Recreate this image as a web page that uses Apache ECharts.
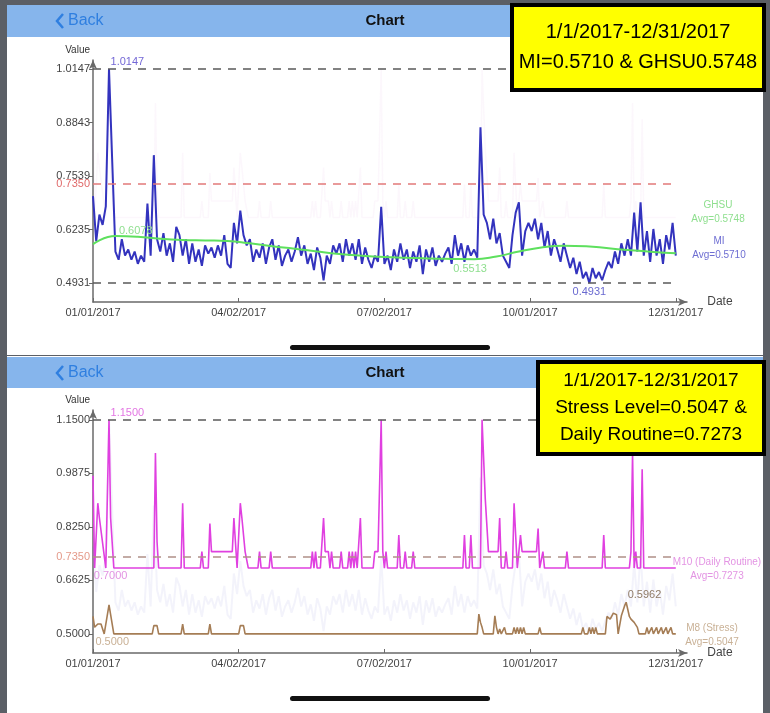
<!DOCTYPE html>
<html><head><meta charset="utf-8">
<script src="https://cdn.jsdelivr.net/npm/echarts@6/dist/echarts.min.js"></script>
<style>html,body{margin:0;padding:0;background:#5b5f66}#c{width:770px;height:713px}</style>
</head><body><div id="c"></div>
<script>
// ---------- data ----------
const xTickDays = [0, 91, 182, 273, 364];
const xTickLabels = ['01/01/2017', '04/02/2017', '07/02/2017', '10/01/2017', '12/31/2017'];
const topYTicks = [0.4931, 0.6235, 0.7539, 0.8843, 1.0147];
const bottomYTicks = [0.5000, 0.6625, 0.8250, 0.9875, 1.1500];
const thresholdValue = 0.7350;

const miAvg = 0.5710, ghsuAvg = 0.5748, stressAvg = 0.5047, routineAvg = 0.7273;
const dateRange = '1/1/2017-12/31/2017';

// MI, one value every 2 days (day 0 .. 364)
const miStepDays = 2;
const miValues = [
  0.705,0.595,0.660,0.635,0.680,1.0147,0.790,0.570,0.550,0.600,
  0.560,0.575,0.550,0.570,0.540,0.560,0.545,0.687,0.560,0.805,
  0.600,0.570,0.615,0.560,0.590,0.545,0.630,0.610,0.560,0.600,
  0.540,0.590,0.545,0.575,0.535,0.585,0.565,0.580,0.555,0.585,
  0.560,0.610,0.540,0.530,0.640,0.590,0.670,0.610,0.585,0.600,
  0.545,0.575,0.555,0.590,0.540,0.580,0.600,0.550,0.585,0.535,
  0.560,0.575,0.545,0.570,0.605,0.560,0.585,0.540,0.565,0.525,
  0.580,0.555,0.500,0.560,0.540,0.585,0.565,0.590,0.545,0.600,
  0.560,0.590,0.550,0.600,0.540,0.580,0.550,0.530,0.560,0.545,
  0.679,0.540,0.560,0.525,0.575,0.545,0.590,0.550,0.575,0.530,
  0.570,0.545,0.585,0.515,0.575,0.545,0.580,0.535,0.560,0.545,
  0.565,0.580,0.540,0.610,0.560,0.590,0.545,0.585,0.560,0.575,
  0.555,0.873,0.660,0.640,0.600,0.650,0.590,0.615,0.560,0.545,
  0.530,0.610,0.665,0.690,0.560,0.620,0.640,0.620,0.650,0.600,
  0.640,0.580,0.620,0.560,0.600,0.575,0.545,0.590,0.560,0.530,
  0.555,0.515,0.545,0.505,0.520,0.4931,0.530,0.505,0.520,0.500,
  0.525,0.545,0.530,0.570,0.540,0.590,0.560,0.600,0.560,0.665,
  0.570,0.690,0.560,0.620,0.545,0.625,0.560,0.600,0.540,0.610,
  0.575,0.640,0.560
];

// GHSU smooth trend, one value every 14 days
const ghsuStepDays = 14;
const ghsuValues = [
  0.588,0.6078,0.606,0.601,0.598,0.597,0.596,0.590,0.583,0.577,
  0.570,0.564,0.560,0.557,0.555,0.553,0.552,0.5513,0.558,0.570,
  0.580,0.584,0.583,0.578,0.573,0.569,0.566
];

// M10 (Daily Routine): [day, value]
const m10Points = [
  [0,0.98],[1,0.70],[3,0.897],[4,0.852],[5,0.852],[8,0.70],[10,1.15],[11,0.852],[12,0.852],[13,0.70],
  [38,0.70],[39,1.049],[40,0.78],[41,0.70],
  [55,0.70],[56,0.897],[57,0.70],
  [67,0.70],[68,0.75],[69,0.70],
  [72,0.70],[73,0.835],[74,0.75],[87,0.75],[88,0.852],[90,0.70],[92,0.897],[93,0.852],[95,0.75],[97,0.70],
  [103,0.70],[104,0.75],[105,0.70],[110,0.70],[111,0.75],[112,0.70],
  [136,0.70],[137,0.75],[138,0.70],[139,0.75],[140,0.70],
  [142,0.70],[144,0.852],[145,0.75],[147,0.75],[148,0.70],[149,0.75],[150,0.70],
  [154,0.70],[155,0.75],[156,0.70],[159,0.70],[160,0.75],[161,0.70],[162,0.75],[163,0.70],[164,0.75],[165,0.70],[167,0.852],[168,0.70],
  [175,0.70],[176,0.75],[178,0.75],[180,1.15],[181,0.75],[182,0.70],[183,0.75],[184,0.70],
  [190,0.70],[191,0.80],[192,0.70],[194,0.70],[195,0.75],[196,0.70],[199,0.70],[200,0.75],[201,0.70],
  [231,0.70],[232,0.80],[233,0.70],[235,0.70],[236,0.80],[237,0.70],
  [242,0.70],[243,1.15],[245,0.91],[247,0.75],[253,0.75],[254,0.852],[255,0.70],[257,0.70],[258,0.75],[259,0.70],
  [262,0.70],[263,0.897],[265,0.70],[267,0.80],[268,0.75],[277,0.75],[278,0.82],[279,0.70],[281,0.75],[282,0.70],
  [295,0.70],[296,0.75],[297,0.70],[318,0.70],[319,0.80],[320,0.70],
  [335,0.70],[336,0.75],[337,1.049],[338,0.70],[339,0.75],[340,0.70],[342,0.70],[343,1.0],[344,0.70],[364,0.70]
];

// M8 (Stress): [day, value]
const m8Points = [
  [0,0.553],[1,0.52],[3,0.53],[5,0.53],[7,0.50],[10,0.588],[13,0.50],
  [37,0.50],[38,0.525],[40,0.525],[41,0.50],
  [55,0.50],[56,0.53],[57,0.50],
  [72,0.50],[73,0.53],[74,0.50],
  [91,0.50],[92,0.525],[94,0.525],[95,0.50],
  [240,0.50],[241,0.56],[242,0.535],[243,0.52],[244,0.50],
  [250,0.50],[251,0.555],[252,0.52],[253,0.50],[254,0.515],[255,0.50],
  [256,0.50],[257,0.52],[258,0.50],[262,0.50],[263,0.52],[264,0.50],[265,0.52],[266,0.50],[267,0.52],[268,0.50],[269,0.52],[270,0.50],[278,0.50],[279,0.52],[280,0.50],
  [305,0.50],[306,0.52],[307,0.50],[309,0.50],[310,0.52],[311,0.50],[312,0.52],[313,0.50],[314,0.52],[315,0.50],
  [320,0.50],[321,0.553],[323,0.545],[325,0.563],[327,0.558],[328,0.50],[330,0.555],[332,0.585],[333,0.5962],[335,0.553],[336,0.545],[338,0.535],[340,0.52],[341,0.50],
  [345,0.50],[346,0.52],[347,0.50],[349,0.52],[350,0.50],[352,0.52],[353,0.50],[355,0.52],[356,0.50],[358,0.52],[359,0.50],[361,0.52],[362,0.50],[364,0.50]
];

// ---------- helpers ----------
const miData = miValues.map((v, i) => [i * miStepDays, v]);
const ghsuData = ghsuValues.map((v, i) => [i * ghsuStepDays, v]);
function extreme(points, kind) {
  let best = points[0];
  for (const p of points) {
    if (kind === 'max' ? p[1] > best[1] : p[1] < best[1]) best = p;
  }
  return best;
}
const lastDay = xTickDays[xTickDays.length - 1];
const FONT = '"Liberation Sans", Roboto, Arial, sans-serif';

function hLine(v, lineStyle, labelColor) {
  const a = { coord: [0, v], lineStyle };
  if (labelColor) a.label = { show: true, position: 'start', formatter: v.toFixed(4), color: labelColor, fontSize: 11, fontFamily: FONT, distance: 3 };
  return [a, { coord: [lastDay, v] }];
}
function mp(pt, color, position, offset) {
  return { coord: pt, value: pt[1], label: { show: true, position, offset, color, fontSize: 11, fontFamily: FONT, formatter: pt[1].toFixed(4) } };
}
function xAxisDef(gridIndex) {
  return {
    gridIndex, type: 'value', min: 0, max: 371,
    name: 'Date', nameLocation: 'end', nameGap: 2,
    nameTextStyle: { color: '#444', fontSize: 12, fontFamily: FONT, padding: [9, 0, 0, 0] },
    axisLine: { show: true, symbol: ['none', 'arrow'], symbolSize: [6, 9], lineStyle: { color: '#6a6a6a', width: 1.5 } },
    axisTick: { show: true, inside: true, length: 4, customValues: xTickDays, lineStyle: { color: '#6a6a6a' } },
    axisLabel: { customValues: xTickDays, formatter: v => xTickLabels[xTickDays.indexOf(v)], color: '#444', fontSize: 11, fontFamily: FONT, margin: 5 },
    splitLine: { show: false }
  };
}
function yAxisDef(gridIndex, min, max, ticks) {
  return {
    gridIndex, type: 'value', min, max,
    name: 'Value', nameLocation: 'end', nameGap: 5,
    nameTextStyle: { color: '#333', fontSize: 10, fontFamily: FONT, align: 'right', padding: [0, 3, 0, 0] },
    axisLine: { show: true, symbol: ['none', 'arrow'], symbolSize: [6, 9], lineStyle: { color: '#6a6a6a', width: 1.5 } },
    axisTick: { show: true, length: 4, customValues: ticks, lineStyle: { color: '#6a6a6a' } },
    axisLabel: { customValues: ticks, formatter: v => v.toFixed(4), color: '#444', fontSize: 11, fontFamily: FONT, margin: 3 },
    splitLine: { show: false }
  };
}
function hiddenY(gridIndex, min, max) {
  return { gridIndex, type: 'value', min, max, show: false, splitLine: { show: false } };
}

const miMax = extreme(miData, 'max'), miMin = extreme(miData, 'min');
const ghMax = extreme(ghsuData, 'max'), ghMin = extreme(ghsuData, 'min');
const m10Max = extreme(m10Points, 'max'), m10Min = extreme(m10Points, 'min');
const m8Max = extreme(m8Points, 'max'), m8Min = extreme(m8Points, 'min');

const dashGrey = { type: [8, 7], width: 1.5, color: '#5a5a5a' };
const dashRed = { type: [8, 7], width: 1.5, color: '#e27a7a' };
const dashBrown = { type: [8, 7], width: 1.5, color: '#b09088' };
const hiddenPoint = { symbol: 'circle', symbolSize: 1, itemStyle: { color: 'rgba(0,0,0,0)' }, silent: true };

// ---------- graphics (phone UI) ----------
function header(y, h) {
  return [
    { type: 'rect', shape: { x: 7, y, width: 756, height: h }, style: { fill: '#86b5ec' }, z: -5 },
    { type: 'polyline', shape: { points: [[63, y + 9], [57, y + 16], [63, y + 23]] }, style: { stroke: '#2f7fe0', lineWidth: 2.5, fill: null }, z: 1 },
    { type: 'text', x: 68, y: y + 16, style: { text: 'Back', fill: '#2f7fe0', font: '16px ' + FONT, textVerticalAlign: 'middle' }, z: 1 },
    { type: 'text', x: 385, y: y + 16, style: { text: 'Chart', fill: '#111', font: 'bold 15px ' + FONT, textAlign: 'center', textVerticalAlign: 'middle' }, z: 1 }
  ];
}
function yellowBox(x, y, w, h, lines, fs, lh) {
  const els = [{ type: 'rect', shape: { x, y, width: w, height: h }, style: { fill: '#ffff00', stroke: '#000', lineWidth: 4 }, z: 50 }];
  const y0 = y + h / 2 - (lines.length - 1) * lh / 2;
  lines.forEach((t, i) => els.push({ type: 'text', x: x + w / 2, y: y0 + i * lh, style: { text: t, fill: '#000', font: fs + 'px ' + FONT, textAlign: 'center', textVerticalAlign: 'middle' }, z: 51 }));
  return els;
}
function sideLabel(x, y, l1, l2, color) {
  return { type: 'text', x, y, style: { text: l1 + '\n' + l2, fill: color, font: '10px ' + FONT, textAlign: 'center', lineHeight: 14 }, z: 5 };
}

const graphics = [
  { type: 'rect', shape: { x: 7, y: 5, width: 756, height: 350 }, style: { fill: '#ffffff' }, z: -10 },
  { type: 'rect', shape: { x: 7, y: 356, width: 756, height: 357 }, style: { fill: '#ffffff' }, z: -10 },
  ...header(5, 32),
  ...header(357, 31),
  { type: 'rect', shape: { x: 290, y: 345, width: 200, height: 5, r: 2.5 }, style: { fill: '#111' }, z: 1 },
  { type: 'rect', shape: { x: 290, y: 696, width: 200, height: 5, r: 2.5 }, style: { fill: '#111' }, z: 1 },
  ...yellowBox(512, 5, 252, 85, [dateRange, 'MI=' + miAvg.toFixed(4) + ' & GHSU' + ghsuAvg.toFixed(4)], 20, 30),
  ...yellowBox(538, 362, 226, 92, [dateRange, 'Stress Level=' + stressAvg.toFixed(4) + ' &', 'Daily Routine=' + routineAvg.toFixed(4)], 19, 27),
  sideLabel(718, 198, 'GHSU', 'Avg=' + ghsuAvg.toFixed(4), '#8fdf8f'),
  sideLabel(719, 234, 'MI', 'Avg=' + miAvg.toFixed(4), '#6e6ed2'),
  sideLabel(717, 555, 'M10 (Daily Routine)', 'Avg=' + routineAvg.toFixed(4), '#e394e3'),
  sideLabel(712, 621, 'M8 (Stress)', 'Avg=' + stressAvg.toFixed(4), '#c9b196')
];

// ---------- chart ----------
const chart = echarts.init(document.getElementById('c'));
chart.setOption({
  animation: false,
  backgroundColor: '#5b5f66',
  textStyle: { fontFamily: FONT },
  graphic: { elements: graphics },
  grid: [
    { left: 93, width: 594, top: 60, height: 242 },
    { left: 93, width: 594, top: 410, height: 243 }
  ],
  xAxis: [xAxisDef(0), xAxisDef(1)],
  yAxis: [
    yAxisDef(0, 0.447, 1.037, topYTicks),
    hiddenY(0, 0.442, 1.18),
    yAxisDef(1, 0.442, 1.18, bottomYTicks),
    hiddenY(1, 0.447, 1.037)
  ],
  series: [
    { // faint bleed-through of the routine line in the top screenshot
      type: 'line', xAxisIndex: 0, yAxisIndex: 1, data: m10Points, showSymbol: false, silent: true,
      lineStyle: { color: 'rgba(200,120,200,0.06)', width: 1.5 }, z: 1
    },
    { // faint bleed-through of MI in the bottom screenshot
      type: 'line', xAxisIndex: 1, yAxisIndex: 3, data: miData, showSymbol: false, silent: true,
      lineStyle: { color: 'rgba(70,70,200,0.065)', width: 2 }, z: 1
    },
    {
      name: 'MI', type: 'line', xAxisIndex: 0, yAxisIndex: 0, data: miData, showSymbol: false,
      lineStyle: { color: '#3333be', width: 2 }, z: 3,
      markLine: {
        silent: true, symbol: ['none', 'none'], label: { show: false },
        data: [
          hLine(miMax[1], dashGrey),
          hLine(miMin[1], dashGrey),
          hLine(thresholdValue, dashRed, '#e06a6a')
        ]
      },
      markPoint: Object.assign({}, hiddenPoint, {
        data: [mp(miMax, '#7468d6', 'right', [-4, -7]), mp(miMin, '#6a6ad0', 'bottom', [0, -2])]
      })
    },
    {
      name: 'GHSU', type: 'line', xAxisIndex: 0, yAxisIndex: 0, data: ghsuData, showSymbol: false, smooth: true,
      lineStyle: { color: '#5ee05e', width: 2 }, z: 4,
      markPoint: Object.assign({}, hiddenPoint, {
        data: [mp(ghMax, '#8fdf8f', 'right', [-2, -5]), mp(ghMin, '#8fdf8f', 'bottom', [-4, -1])]
      })
    },
    {
      name: 'M10 (Daily Routine)', type: 'line', xAxisIndex: 1, yAxisIndex: 2, data: m10Points, showSymbol: false,
      lineStyle: { color: '#e040e0', width: 1.6 }, z: 3,
      markLine: {
        silent: true, symbol: ['none', 'none'], label: { show: false },
        data: [
          hLine(m10Max[1], dashGrey),
          hLine(thresholdValue, dashBrown, '#e49a8a')
        ]
      },
      markPoint: Object.assign({}, hiddenPoint, {
        data: [mp(m10Max, '#e376e3', 'right', [-4, -7]), mp(m10Min, '#e394e3', 'bottom', [16, -3])]
      })
    },
    {
      name: 'M8 (Stress)', type: 'line', xAxisIndex: 1, yAxisIndex: 2, data: m8Points, showSymbol: false,
      lineStyle: { color: '#a57d55', width: 1.6 }, z: 3,
      markPoint: Object.assign({}, hiddenPoint, {
        data: [mp(m8Max, '#8f7a66', 'right', [-4, -7]), mp(m8Min, '#c9b196', 'bottom', [8, -3])]
      })
    }
  ]
});
</script>
</body></html>
